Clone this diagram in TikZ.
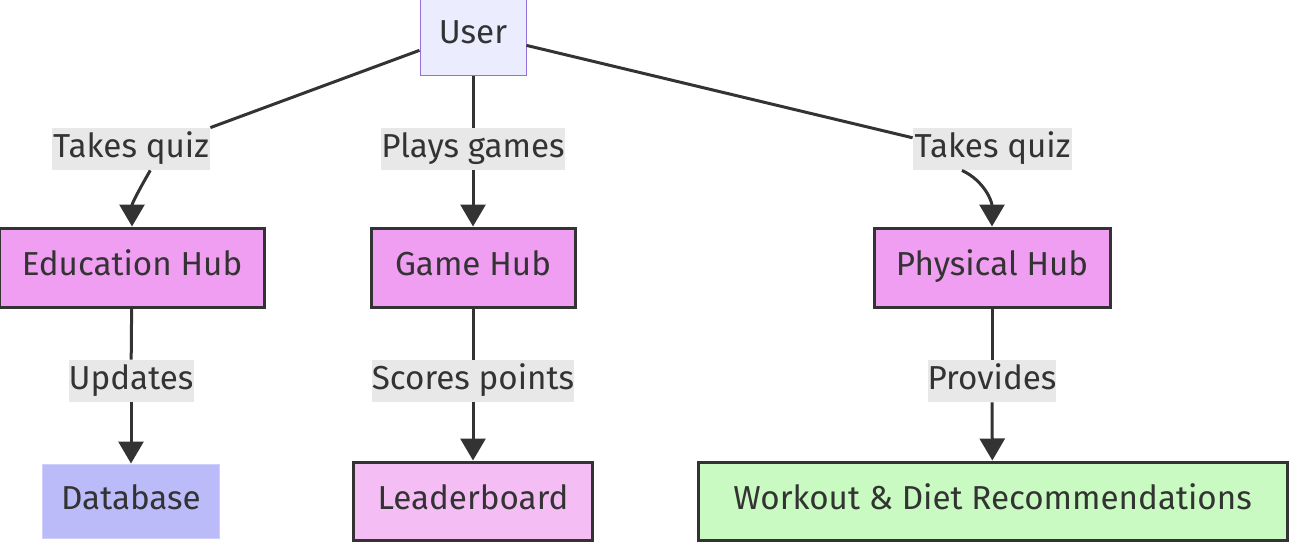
\documentclass[tikz,border=0pt]{standalone}
\usepackage{fontspec}
\setmainfont{Fira Sans}
\usepackage{xcolor}
\usetikzlibrary{arrows.meta,positioning,calc}

\definecolor{inkgrey}{HTML}{333333}
\definecolor{userfill}{HTML}{ECECFF}
\definecolor{userdraw}{HTML}{9370DB}
\definecolor{hubpink}{HTML}{F09EF2}
\definecolor{boardpink}{HTML}{F4BEF5}
\definecolor{dbblue}{HTML}{BBBBF9}
\definecolor{planggreen}{HTML}{C9FAC2}
\definecolor{lblgrey}{HTML}{E8E8E8}

\tikzset{
	box/.style={draw=inkgrey, line width=1.5pt, inner sep=0pt, minimum height=39.5pt,
		text=inkgrey, text height=2ex, text depth=.4ex, font=\fontsize{16.6}{19}\selectfont},
	hub/.style={box, fill=hubpink},
	edgelbl/.style={fill=lblgrey, text=inkgrey, inner sep=0pt, minimum height=21pt,
		text height=2ex, text depth=.4ex, font=\fontsize{16.6}{19}\selectfont},
	link/.style={draw=inkgrey, line width=1.5pt},
	arrowlink/.style={link, -{Triangle[length=11pt,width=12.5pt]}}
}

\begin{document}
\begin{tikzpicture}[x=0.5pt,y=-0.5pt]
		\useasboundingbox (0,0) rectangle (1290,552);

		% top
		\node[box, fill=userfill, draw=userdraw, line width=0.5pt, minimum width=53pt, minimum height=40pt] (user) at (473,35) {User};

		% hubs
		\node[hub, minimum width=132.5pt] (edu) at (132,267.5) {Education Hub};
		\node[hub, minimum width=102pt] (game) at (473,267.5) {Game Hub};
		\node[hub, minimum width=118pt] (phys) at (992,267.5) {Physical Hub};

		% bottom row
		\node[box, fill=dbblue, draw=dbblue!70!white, line width=0.5pt, minimum width=88.5pt, minimum height=37pt] (db) at (131,501) {Database};
		\node[box, fill=boardpink, minimum width=119.5pt, minimum height=39pt] (board) at (473,501) {Leaderboard};
		\node[box, fill=planggreen, minimum width=294.5pt, minimum height=39pt] (plan) at (992.5,501) {Workout \& Diet Recommendations};

		% edge labels
		\node[edgelbl, minimum width=79pt] (quizedu) at (131,149) {Takes quiz};
		\node[edgelbl, minimum width=92pt] (plays) at (473,149) {Plays games};
		\node[edgelbl, minimum width=79.5pt] (quizphys) at (992.5,149) {Takes quiz};
		\node[edgelbl, minimum width=62.5pt] (updates) at (131,381) {Updates};
		\node[edgelbl, minimum width=100pt] (scores) at (473,381) {Scores points};
		\node[edgelbl, minimum width=63pt] (provides) at (992,381) {Provides};

		% connectors
		\draw[link] (user.196) -- (quizedu.north east);
		\draw[arrowlink] (quizedu.-48) to[out=-120,in=90] (edu.north);
		\draw[link] (user) -- (plays);
		\draw[arrowlink] (plays) -- (game);
		\draw[link] (user.-11) -- (quizphys.172);
		\draw[arrowlink] (quizphys.-145) to[out=-25,in=90] (phys.north);

		\draw[link] (edu) -- (updates);
		\draw[arrowlink] (updates) -- (db);
		\draw[link] (game) -- (scores);
		\draw[arrowlink] (scores) -- (board);
		\draw[link] (phys) -- (provides);
		\draw[arrowlink] (provides) -- (plan);
	\end{tikzpicture}
\end{document}
